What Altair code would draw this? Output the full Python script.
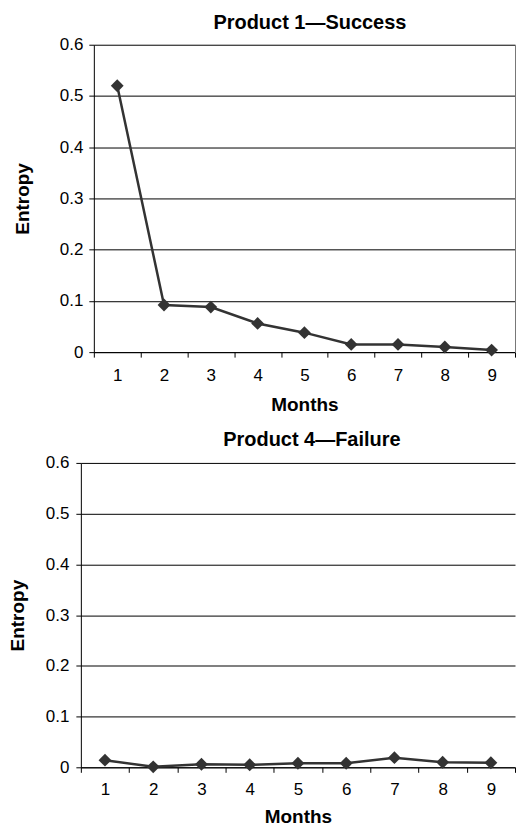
import altair as alt
import pandas as pd

months = [1, 2, 3, 4, 5, 6, 7, 8, 9]
success = [0.52, 0.092, 0.088, 0.056, 0.038, 0.015, 0.015, 0.010, 0.004]
failure = [0.014, 0.001, 0.006, 0.005, 0.008, 0.008, 0.019, 0.010, 0.009]
y_ticks = [0, 0.1, 0.2, 0.3, 0.4, 0.5, 0.6]

FONT = "Liberation Sans"
INK = "#333333"


def panel(values, title, width, height, x_range, y_offset, title_x, title_dx,
          title_off, lab_pad, x_lab_pad, x_title_pad, border):
    df = pd.DataFrame({"Months": months, "Entropy": values})
    if x_range is not None:
        xscale = alt.Scale(type="band", paddingInner=0, paddingOuter=0, range=x_range)
    else:
        xscale = alt.Scale(type="band", paddingInner=0, paddingOuter=0)
    x = alt.X(
        "Months:O",
        title="Months",
        scale=xscale,
        axis=alt.Axis(
            labelAngle=0, tickBand="extent", grid=False, tickSize=5,
            labelPadding=x_lab_pad, titlePadding=x_title_pad, domainColor="black",
            tickColor="black",
        ),
    )
    yscale = alt.Scale(domain=[0, 0.6], nice=False, zero=True)
    y = alt.Y(
        "Entropy:Q",
        title="Entropy",
        scale=yscale,
        axis=alt.Axis(
            values=y_ticks, format=".1~f", tickSize=5, labelPadding=lab_pad,
            grid=True, gridColor="black", gridOpacity=1, gridWidth=1,
            domainColor="black", tickColor="black", titleX=title_x,
            offset=y_offset,
        ),
    )
    base = alt.Chart(df).encode(x=x, y=y)
    line = base.mark_line(color=INK, strokeWidth=2.5)
    if border:
        y_right = alt.Y(
            "Entropy:Q", title=None, scale=yscale,
            axis=alt.Axis(orient="right", labels=False, ticks=False, grid=False,
                          domain=True, domainColor="#777777", domainWidth=1),
        )
        pts = base.mark_point(shape="diamond", filled=True, size=165, color=INK,
                              opacity=1).encode(y=y_right)
        layered = alt.layer(line, pts).resolve_scale(y="independent")
    else:
        pts = base.mark_point(shape="diamond", filled=True, size=165, color=INK, opacity=1)
        layered = alt.layer(line, pts)
    return layered.properties(
        width=width,
        height=height,
        title=alt.TitleParams(title, fontSize=20, fontWeight="bold", font=FONT,
                              anchor="middle", offset=title_off, dx=title_dx,
                              color="black"),
        view=alt.ViewBackground(strokeWidth=0),
    )


top = panel(success, "Product 1—Success", 435, 308, [13, 435], -13, -61, 12, 3, 6, 10, 12, True)
bottom = panel(failure, "Product 4—Failure", 435, 305, None, 0, -53, 14, 4, 7, 9, 10, False)

chart = alt.vconcat(top, bottom, spacing=16).properties(
    padding={"left": 1, "top": 4, "right": 0, "bottom": 0}
).configure(font=FONT).configure_axis(
    labelFont=FONT, titleFont=FONT, labelFontSize=17, titleFontSize=19,
    titleFontWeight="bold", labelColor="black", titleColor="black",
)

chart.save("out.html", embed_options={"renderer": "svg", "actions": False})
